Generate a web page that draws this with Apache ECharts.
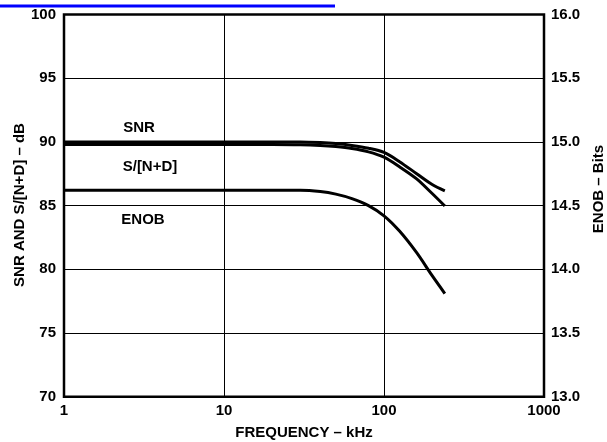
<!DOCTYPE html>
<html>
<head>
<meta charset="utf-8">
<script src="https://cdn.jsdelivr.net/npm/echarts@6/dist/echarts.min.js"></script>
<style>
  html, body { margin: 0; padding: 0; background: #fff; }
  #chart { width: 607px; height: 442px; }
</style>
</head>
<body>
<div id="chart"></div>
<script>
// Input frequency (kHz) and measured performance
const freqKHz  = [1, 10, 20, 30, 40, 50, 63, 80, 100, 125, 160, 200, 240];
const snrDb    = [90.0, 90.0, 90.0, 90.0, 89.95, 89.87, 89.72, 89.5, 89.17, 88.45, 87.5, 86.65, 86.15];
const sinadDb  = [89.8, 89.8, 89.8, 89.78, 89.72, 89.63, 89.48, 89.22, 88.8, 88.05, 87.1, 85.95, 84.97];
const enobBits = [14.62, 14.62, 14.62, 14.62, 14.61, 14.59, 14.555, 14.5, 14.42, 14.3, 14.13, 13.95, 13.81];

const leftTicks = [70, 75, 80, 85, 90, 95, 100];
const rightTicks = ['13.0', '13.5', '14.0', '14.5', '15.0', '15.5', '16.0'];
const freqTicks = ['1', '10', '100', '1000'];

const FONT = '"Liberation Sans", Arial, Helvetica, sans-serif';

function pairs(xs, ys) { return xs.map((x, i) => [x, ys[i]]); }

const chart = echarts.init(document.getElementById('chart'), null, { renderer: 'canvas' });

const lineStyle = { color: '#000', width: 3 };
function curve(name, values, axisIndex) {
  return {
    name, type: 'line', yAxisIndex: axisIndex, data: pairs(freqKHz, values),
    smooth: 0.3, showSymbol: false, symbol: 'none',
    lineStyle, animation: false, z: 5
  };
}

const labelText = { fill: '#000', font: 'bold 15px ' + FONT, textAlign: 'center', textVerticalAlign: 'middle' };

chart.setOption({
  animation: false,
  backgroundColor: '#fff',
  grid: { left: 64, right: 63, top: 14.5, bottom: 45.3, show: true, borderColor: '#000', borderWidth: 2.5, backgroundColor: 'transparent' },
  xAxis: {
    type: 'log', logBase: 10, min: 1, max: 1000,
    axisLine: { show: false }, axisTick: { show: false },
    axisLabel: {
      color: '#000', fontFamily: FONT, fontWeight: 'bold', fontSize: 15, margin: 7,
      formatter: v => freqTicks[Math.round(Math.log10(v))]
    },
    splitLine: { show: true, lineStyle: { color: '#000', width: 1 } },
    minorSplitLine: { show: false }
  },
  yAxis: [
    {
      type: 'value', min: leftTicks[0], max: leftTicks[leftTicks.length - 1], interval: 5,
      axisLine: { show: false }, axisTick: { show: false },
      axisLabel: { color: '#000', fontFamily: FONT, fontWeight: 'bold', fontSize: 15, margin: 8 },
      splitLine: { show: true, lineStyle: { color: '#000', width: 1 } }
    },
    {
      type: 'value', min: 13, max: 16, interval: 0.5, position: 'right',
      axisLine: { show: false }, axisTick: { show: false },
      axisLabel: {
        color: '#000', fontFamily: FONT, fontWeight: 'bold', fontSize: 15, margin: 7,
        formatter: v => rightTicks[Math.round((v - 13) / 0.5)]
      },
      splitLine: { show: false }
    }
  ],
  series: [
    curve('SNR', snrDb, 0),
    curve('S/[N+D]', sinadDb, 0),
    curve('ENOB', enobBits, 1)
  ],
  graphic: [
    { type: 'rect', shape: { x: 0, y: 4.5, width: 335, height: 3 }, style: { fill: '#0000ff' } },
    { type: 'text', x: 139, y: 128, style: Object.assign({ text: 'SNR' }, labelText) },
    { type: 'text', x: 150, y: 167, style: Object.assign({ text: 'S/[N+D]' }, labelText) },
    { type: 'text', x: 143, y: 220, style: Object.assign({ text: 'ENOB' }, labelText) },
    { type: 'text', x: 304, y: 433, style: Object.assign({ text: 'FREQUENCY – kHz' }, labelText) },
    { type: 'text', x: 19.5, y: 205, rotation: Math.PI / 2, style: Object.assign({ text: 'SNR AND S/[N+D] – dB' }, labelText) },
    { type: 'text', x: 599, y: 189, rotation: Math.PI / 2, style: Object.assign({ text: 'ENOB – Bits' }, labelText) }
  ]
});
</script>
</body>
</html>
